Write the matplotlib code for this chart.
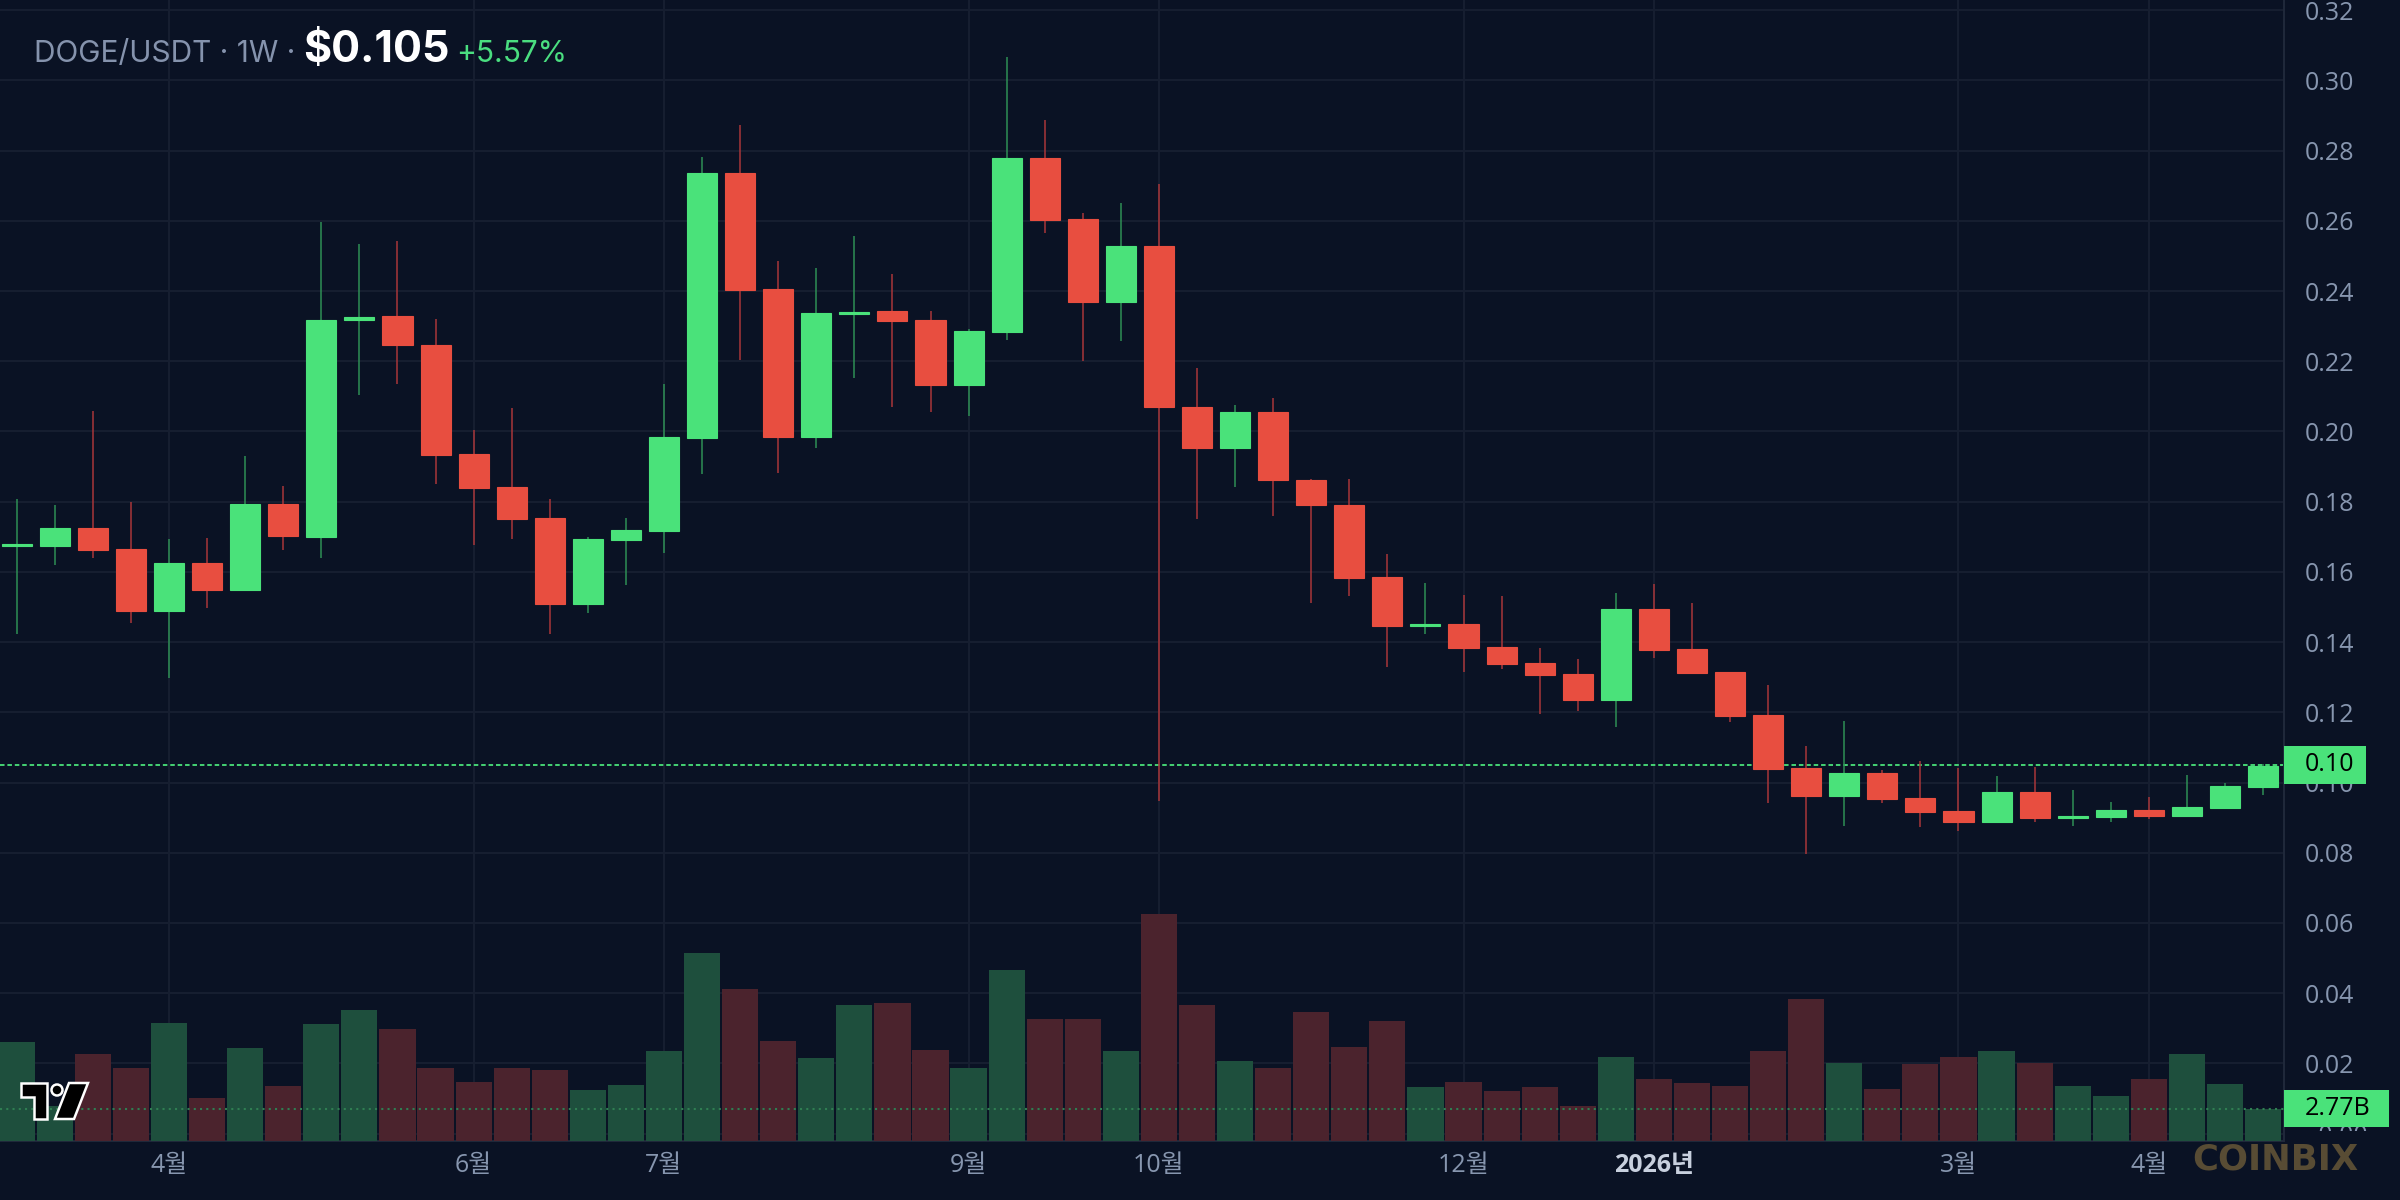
import matplotlib
matplotlib.use('Agg')
import matplotlib.pyplot as plt
import matplotlib.transforms as mtransforms
from matplotlib.patches import Polygon, Circle, Rectangle
import numpy as np

# weekly DOGE/USDT candles
opens = [0.1675, 0.1675, 0.1724, 0.1664, 0.1489, 0.1625, 0.1548, 0.1793, 0.1700, 0.2317,
         0.2329, 0.2246, 0.1936, 0.1841, 0.1753, 0.1508, 0.1690, 0.1716, 0.1981, 0.2737,
         0.2406, 0.1984, 0.2336, 0.2344, 0.2318, 0.2132, 0.2284, 0.2780, 0.2605, 0.2369,
         0.2527, 0.2070, 0.1952, 0.2056, 0.1862, 0.1791, 0.1586, 0.1447, 0.1453, 0.1386,
         0.1340, 0.1308, 0.1236, 0.1494, 0.1380, 0.1315, 0.1192, 0.1041, 0.0962, 0.1027,
         0.0956, 0.0919, 0.0887, 0.0973, 0.0899, 0.0902, 0.0922, 0.0905, 0.0927, 0.0987]
highs = [0.1807, 0.1790, 0.2057, 0.1798, 0.1693, 0.1696, 0.1930, 0.1844, 0.2596, 0.2534,
         0.2542, 0.2320, 0.2003, 0.2067, 0.1809, 0.1699, 0.1753, 0.2135, 0.2782, 0.2874,
         0.2486, 0.2466, 0.2557, 0.2449, 0.2344, 0.2292, 0.3068, 0.2888, 0.2622, 0.2652,
         0.2704, 0.2182, 0.2074, 0.2096, 0.1865, 0.1865, 0.1651, 0.1568, 0.1534, 0.1531,
         0.1382, 0.1352, 0.1540, 0.1566, 0.1511, 0.1315, 0.1278, 0.1104, 0.1175, 0.1036,
         0.1062, 0.1042, 0.1019, 0.1044, 0.0979, 0.0944, 0.0959, 0.1021, 0.0999, 0.1052]
lows = [0.1424, 0.1621, 0.1640, 0.1454, 0.1297, 0.1497, 0.1545, 0.1663, 0.1640, 0.2105,
        0.2136, 0.1851, 0.1676, 0.1694, 0.1424, 0.1483, 0.1563, 0.1654, 0.1878, 0.2205,
        0.1882, 0.1953, 0.2152, 0.2070, 0.2055, 0.2044, 0.2260, 0.2566, 0.2201, 0.2258,
        0.0948, 0.1752, 0.1843, 0.1760, 0.1512, 0.1532, 0.1330, 0.1424, 0.1316, 0.1324,
        0.1196, 0.1204, 0.1159, 0.1355, 0.1310, 0.1172, 0.0942, 0.0797, 0.0876, 0.0942,
        0.0873, 0.0862, 0.0887, 0.0887, 0.0876, 0.0887, 0.0896, 0.0902, 0.0924, 0.0964]
closes = [0.1680, 0.1724, 0.1662, 0.1489, 0.1625, 0.1548, 0.1793, 0.1702, 0.2317, 0.2327,
          0.2245, 0.1934, 0.1840, 0.1751, 0.1508, 0.1693, 0.1719, 0.1984, 0.2737, 0.2404,
          0.1984, 0.2338, 0.2341, 0.2315, 0.2132, 0.2286, 0.2780, 0.2603, 0.2369, 0.2529,
          0.2069, 0.1952, 0.2056, 0.1861, 0.1790, 0.1583, 0.1447, 0.1453, 0.1383, 0.1339,
          0.1307, 0.1236, 0.1494, 0.1378, 0.1312, 0.1190, 0.1039, 0.0962, 0.1027, 0.0953,
          0.0916, 0.0887, 0.0973, 0.0899, 0.0904, 0.0922, 0.0905, 0.0930, 0.0990, 0.1047]
# volume in billions
volumes = [8.5, 3.0, 7.5, 6.3, 10.1, 3.7, 8.0, 4.7, 10.0, 11.2,
           9.6, 6.3, 5.1, 6.3, 6.1, 4.4, 4.8, 7.7, 16.1, 13.0,
           8.6, 7.1, 11.7, 11.8, 7.8, 6.3, 14.7, 10.5, 10.5, 7.7,
           19.5, 11.7, 6.9, 6.3, 11.1, 8.1, 10.3, 4.6, 5.1, 4.3,
           4.6, 3.0, 7.2, 5.3, 5.0, 4.7, 7.7, 12.2, 6.7, 4.5,
           6.6, 7.2, 7.7, 6.7, 4.7, 3.9, 5.3, 7.5, 4.9, 2.77]

month_pos = [4, 12, 17, 25, 30, 38, 43, 51, 56]
month_labels = ['4월', '6월', '7월', '9월', '10월', '12월', '2026년', '3월', '4월']
price_ticks = [0.00, 0.02, 0.04, 0.06, 0.08, 0.10, 0.12, 0.14, 0.16,
               0.18, 0.20, 0.22, 0.24, 0.26, 0.28, 0.30, 0.32]
last_price = 0.105
last_volume = 2.77

BG = '#0A1224'
UP = '#4AE27A'
DOWN = '#E84E40'
UP_WICK = '#2E8F55'
DOWN_WICK = '#A8363A'
UP_VOL = '#1E4F3D'
DOWN_VOL = '#4B232D'
GRID = '#161E30'
TXT = '#8796AF'
W, H = 2400, 1200

plt.rcParams['font.family'] = ['Open Sans', 'Noto Sans CJK KR', 'DejaVu Sans']

fig = plt.figure(figsize=(24, 12), dpi=100, facecolor=BG)
ax = fig.add_axes([0, 59 / H, 2284 / W, 1141 / H])
ax.set_facecolor(BG)

x = np.arange(len(opens))
o = np.array(opens)
c = np.array(closes)
up = c >= o

# volume pane (twin axis, drawn on top of the price pane)
axv = ax.twinx()
axv.set_ylim(0, 97.8)
axv.bar(x, volumes, width=0.95, color=np.where(up, UP_VOL, DOWN_VOL), zorder=1)
axv.axhline(last_volume, color='#2F7E52', linewidth=1.5, linestyle=(0, (1, 2)), zorder=2)
axv.tick_params(right=False, labelright=False, left=False, labelleft=False)
for s in axv.spines.values():
    s.set_visible(False)
trv = mtransforms.blended_transform_factory(axv.transAxes, axv.transData)
axv.add_patch(Rectangle((1.0, last_volume - 1.58), 0.046, 3.16, transform=trv,
                        facecolor=UP, edgecolor='none', clip_on=False, zorder=5))
axv.text(1.0092, last_volume, f'{last_volume:.2f}B', transform=trv, ha='left', va='center',
         color='black', fontsize=18, clip_on=False, zorder=6)

ax.set_xlim(-0.44, 59.55)
ax.set_ylim(-0.0021, 0.3229)

ax.set_yticks(price_ticks)
ax.set_yticklabels(['−0.00'] + [f'{t:.2f}' for t in price_ticks[1:]])
ax.set_xticks(month_pos)
ax.set_xticklabels(month_labels)
ax.grid(True, color=GRID, linewidth=1.5)

ax.vlines(x, lows, highs, colors=np.where(up, UP_WICK, DOWN_WICK), linewidth=1.1, zorder=2)
body_col = np.where(up, UP, DOWN)
ax.bar(x, np.abs(c - o), bottom=np.minimum(o, c), width=0.79, color=body_col,
       edgecolor=body_col, linewidth=0.8, zorder=3)

ax.axhline(last_price, color=UP, linewidth=1.3, linestyle=(0, (2.5, 1.6)), zorder=1.8)

ax.yaxis.tick_right()
ax.yaxis.set_label_position('right')
ax.tick_params(axis='y', length=0, pad=15, labelsize=18, labelcolor=TXT,
               left=False, labelleft=False, right=True, labelright=True)
ax.tick_params(axis='x', length=0, pad=9, labelsize=18, labelcolor=TXT)
yr = ax.get_xticklabels()[month_labels.index('2026년')]
yr.set_fontweight('bold')
yr.set_color('#C8D0DE')

for s in ['top', 'left']:
    ax.spines[s].set_visible(False)
for s in ['right', 'bottom']:
    ax.spines[s].set_color('#1F283A')
    ax.spines[s].set_linewidth(1.5)

# last price tag
tr = mtransforms.blended_transform_factory(ax.transAxes, ax.transData)
ax.add_patch(Rectangle((1.0, last_price - 0.0054), 0.036, 0.0108, transform=tr,
                       facecolor=UP, edgecolor='none', clip_on=False, zorder=5))
ax.text(1.0092, last_price, f'{last_price:.2f}', transform=tr, ha='left', va='center',
        color='black', fontsize=18, clip_on=False, zorder=6)

# hide the clipped part of the lowest price label
fig.patches.append(Rectangle((2286 / W, 0), 114 / W, 69 / H, transform=fig.transFigure,
                             facecolor=BG, edgecolor='none', zorder=1))

# header
base = 1 - 62 / H
fig.text(34 / W, base, 'DOGE/USDT · 1W ·', family='Inter', fontsize=21.5, color='#8593AD', va='baseline')
fig.text(303 / W, base, '$0.105', family='Inter', fontsize=31, fontweight='bold', color='white', va='baseline')
fig.text(456 / W, base, '+5.57%', family='Inter', fontsize=21.5, color='#4ADE80', va='baseline')

# watermark
fig.text(2192 / W, 1 - 1169 / H, 'COINBIX', family='DejaVu Sans', fontweight='bold', fontsize=25.5,
         color='#584C34', va='baseline', zorder=3)

# TradingView style logo (bottom-left corner)
def px(pts):
    return [(a, H - b) for a, b in pts]

logo_kw = dict(facecolor='black', edgecolor='white', linewidth=1.8, transform=None, zorder=4)
fig.add_artist(Polygon(px([(21, 1083), (47, 1083), (47, 1119), (34, 1119), (34, 1097), (21, 1097)]), **logo_kw))
fig.add_artist(Circle((57, H - 1090), 5.5, **logo_kw))
fig.add_artist(Polygon(px([(69, 1083), (88, 1083), (74, 1119), (55, 1119)]), **logo_kw))

fig.savefig('out.png', dpi=100, facecolor=BG)
